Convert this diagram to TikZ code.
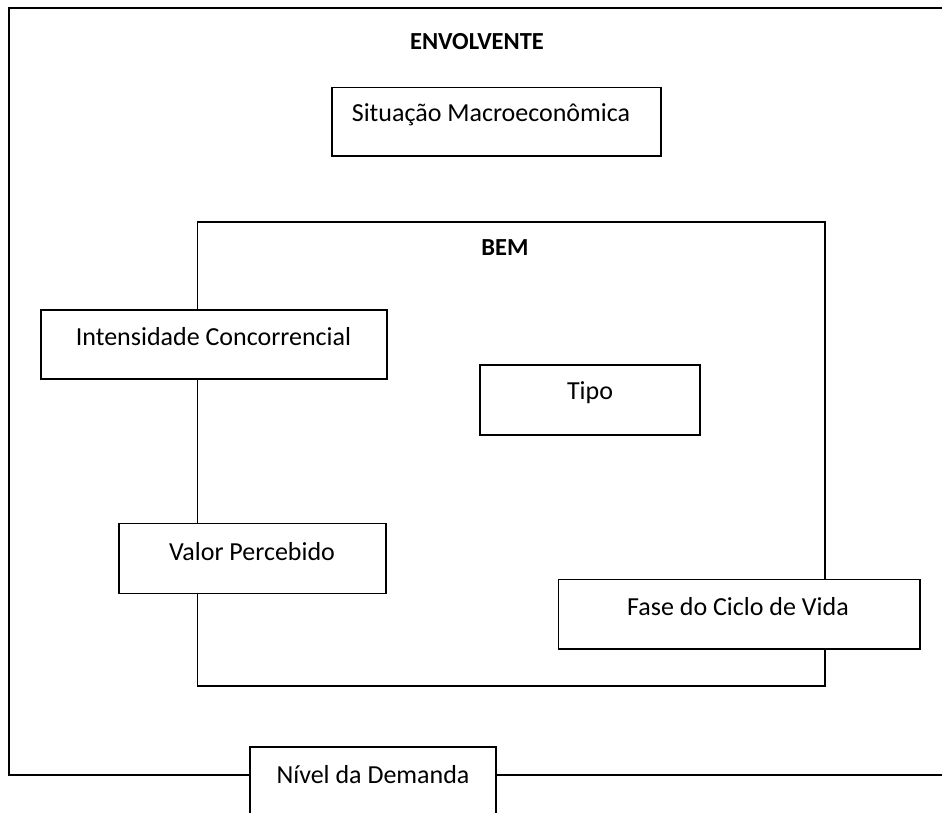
\documentclass[tikz,border=0pt]{standalone}
\usepackage{fontspec}
\setmainfont{Carlito}
\begin{document}
\begin{tikzpicture}[x=1pt,y=-1pt,
  frame/.style={draw=black,line width=1.6pt},
  boxst/.style={draw=black,fill=white,line width=1.6pt,rectangle,inner sep=0pt},
  txt/.style={inner sep=0pt,font=\fontsize{26}{30}\selectfont,text=black},
  ttl/.style={inner sep=0pt,font=\fontsize{24.5}{28}\selectfont\bfseries,text=black}]
\useasboundingbox (0,0) rectangle (942,812);
\clip (0,0) rectangle (942,812);
\fill[white] (0,0) rectangle (942,812);
% outer frame (ENVOLVENTE)
\draw[frame] (9,8) rectangle (960,775);
\node[ttl] (env) at (477,42) {ENVOLVENTE};
% BEM frame
\draw[frame] (197.5,221.7) rectangle (825,686);
\node[ttl] (bem) at (505,248) {BEM};
% boxes
\node[boxst,minimum width=329pt,minimum height=68.4pt] (sit) at (496.2,121.5) {};
\node[txt] (sitT) at (491,115) {Situação Macroeconômica};
\node[boxst,minimum width=346pt,minimum height=69.3pt] (int) at (213.7,344.6) {};
\node[txt] (intT) at (213.5,337) {Intensidade Concorrencial};
\node[boxst,minimum width=220pt,minimum height=70pt] (tip) at (590,400) {};
\node[txt] (tipT) at (590,393) {Tipo};
\node[boxst,minimum width=267pt,minimum height=70pt] (val) at (252.5,558.3) {};
\node[txt] (valT) at (252,552) {Valor Percebido};
\node[boxst,minimum width=361.7pt,minimum height=69.7pt] (fas) at (739.2,614.2) {};
\node[txt] (fasT) at (738,607) {Fase do Ciclo de Vida};
\node[boxst,minimum width=246.3pt,minimum height=80pt] (niv) at (373,786.7) {};
\node[txt] (nivT) at (373,775) {Nível da Demanda};
\end{tikzpicture}
\end{document}
